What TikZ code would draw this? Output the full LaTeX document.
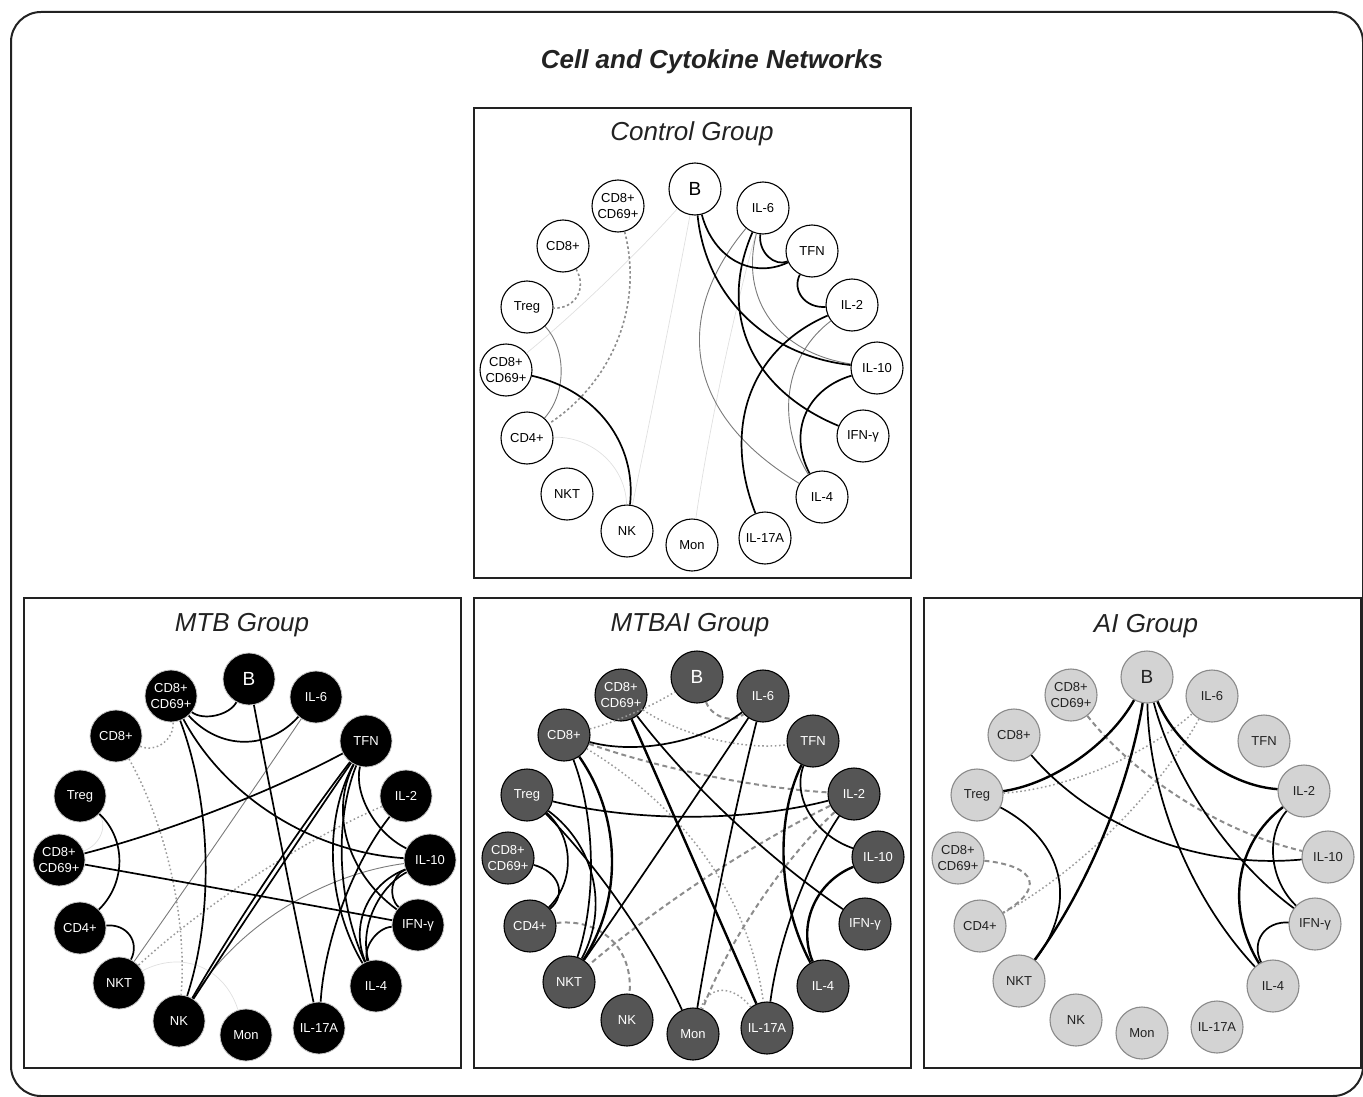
\documentclass[tikz,border=0pt]{standalone}
\usepackage{fontspec}
\setmainfont{Liberation Sans}
\usetikzlibrary{calc}
\definecolor{ink}{HTML}{222222}
\definecolor{mtbaifill}{HTML}{555555}
\definecolor{aifill}{HTML}{D3D3D3}
\definecolor{aiborder}{HTML}{8A8A8A}
\definecolor{dashgray}{HTML}{8C8C8C}
\definecolor{dotgray}{HTML}{9A9A9A}
\definecolor{thingray}{HTML}{7A7A7A}
\definecolor{faintgray}{HTML}{E0E0E0}
\newcommand\netlink[5][]{%
  \coordinate (lkM) at ($(#2)!0.5!(#3)$);%
  \coordinate (lkQ) at ($(lkM)!#4!(#5)$);%
  \draw[#1] (#2) .. controls ($(#2)!0.6667!(lkQ)$) and ($(#3)!0.6667!(lkQ)$) .. (#3);}
\tikzset{
  nd/.style={circle, minimum size=52pt, inner sep=0pt, align=center,
    font=\fontsize{13}{15.5}\selectfont, line width=1.1pt},
  ctl/.style={nd, draw=black, fill=white, text=black},
  mtb/.style={nd, draw=gray!45, fill=black, text=white, line width=0.8pt},
  mai/.style={nd, draw=black, fill=mtbaifill, text=white},
  ain/.style={nd, draw=aiborder, fill=aifill, text=ink},
  bnode/.style={font=\fontsize{19}{22}\selectfont},
  blk/.style={draw=black, line width=1.7pt},
  strong/.style={draw=black, line width=2.4pt},
  thinl/.style={draw=thingray, line width=0.9pt},
  dashl/.style={draw=dashgray, line width=2pt, dash pattern=on 5pt off 3.5pt},
  dotl/.style={draw=dotgray, line width=1.5pt, dash pattern=on 1.6pt off 2.6pt},
  cdot/.style={draw=dashgray, line width=1.6pt, dash pattern=on 2.5pt off 2.5pt},
  faint/.style={draw=faintgray, line width=0.7pt},
  panel/.style={draw=ink, line width=1.4pt},
  ptitle/.style={font=\fontsize{26}{30}\selectfont\itshape, text=ink, anchor=base, inner sep=0pt},
}
\begin{document}
\begin{tikzpicture}[x=1pt,y=-1pt]
\useasboundingbox (0,0) rectangle (1363,1097);
\draw[draw=ink, line width=2pt, rounded corners=30pt] (11,12) rectangle (1363,1096);
\node[font=\fontsize{26}{30}\selectfont\bfseries\itshape, text=ink, anchor=base, inner sep=0pt] (title) at (712,69) {Cell and Cytokine Networks};

% panels
\draw[panel] (474,108) rectangle (911,578);
\draw[panel] (24,598) rectangle (461,1068);
\draw[panel] (474,598) rectangle (911,1068);
\draw[panel] (924,598) rectangle (1361,1068);
\node[ptitle] (tc) at (692,141) {Control Group};
\node[ptitle] (tm) at (242,631) {MTB Group};
\node[ptitle] (tx) at (690,631) {MTBAI Group};
\node[ptitle] (ta) at (1146,632) {AI Group};

\coordinate (cC) at (692,367);
\coordinate (mC) at (245,858);
\coordinate (xC) at (693,857);
\coordinate (aC) at (1143,857);

% ---------- Control nodes
\node[ctl,bnode] (cB) at (695,189) {B};
\node[ctl] (cIL6) at (763,208) {IL-6};
\node[ctl] (cTFN) at (812,251) {TFN};
\node[ctl] (cIL2) at (852,305) {IL-2};
\node[ctl] (cIL10) at (877,368) {IL-10};
\node[ctl] (cIFN) at (863,436) {IFN-γ};
\node[ctl] (cIL4) at (822,497) {IL-4};
\node[ctl] (cIL17) at (765,538) {IL-17A};
\node[ctl] (cMon) at (692,545) {Mon};
\node[ctl] (cNK) at (627,531) {NK};
\node[ctl] (cNKT) at (567,494) {NKT};
\node[ctl] (cCD4) at (527,438) {CD4+};
\node[ctl] (cDCb) at (506,370) {CD8+\\CD69+};
\node[ctl] (cTreg) at (527,307) {Treg};
\node[ctl] (cCD8) at (563,246) {CD8+};
\node[ctl] (cDCt) at (618,206) {CD8+\\CD69+};

% ---------- MTB nodes
\node[mtb,bnode] (mB) at (249,679) {B};
\node[mtb] (mIL6) at (316,697) {IL-6};
\node[mtb] (mTFN) at (366,741) {TFN};
\node[mtb] (mIL2) at (406,796) {IL-2};
\node[mtb] (mIL10) at (430,860) {IL-10};
\node[mtb] (mIFN) at (418,925) {IFN-γ};
\node[mtb] (mIL4) at (376,986) {IL-4};
\node[mtb] (mIL17) at (319,1028) {IL-17A};
\node[mtb] (mMon) at (246,1035) {Mon};
\node[mtb] (mNK) at (179,1021) {NK};
\node[mtb] (mNKT) at (119,983) {NKT};
\node[mtb] (mCD4) at (80,928) {CD4+};
\node[mtb] (mDCb) at (59,860) {CD8+\\CD69+};
\node[mtb] (mTreg) at (80,796) {Treg};
\node[mtb] (mCD8) at (116,736) {CD8+};
\node[mtb] (mDCt) at (171,696) {CD8+\\CD69+};

% ---------- MTBAI nodes
\node[mai,bnode] (xB) at (697,677) {B};
\node[mai] (xIL6) at (763,696) {IL-6};
\node[mai] (xTFN) at (813,741) {TFN};
\node[mai] (xIL2) at (854,794) {IL-2};
\node[mai] (xIL10) at (878,857) {IL-10};
\node[mai] (xIFN) at (865,924) {IFN-γ};
\node[mai] (xIL4) at (823,986) {IL-4};
\node[mai] (xIL17) at (767,1028) {IL-17A};
\node[mai] (xMon) at (693,1034) {Mon};
\node[mai] (xNK) at (627,1020) {NK};
\node[mai] (xNKT) at (569,982) {NKT};
\node[mai] (xCD4) at (530,926) {CD4+};
\node[mai] (xDCb) at (508,858) {CD8+\\CD69+};
\node[mai] (xTreg) at (527,795) {Treg};
\node[mai] (xCD8) at (564,735) {CD8+};
\node[mai] (xDCt) at (621,695) {CD8+\\CD69+};

% ---------- AI nodes
\node[ain,bnode] (aB) at (1147,677) {B};
\node[ain] (aIL6) at (1212,696) {IL-6};
\node[ain] (aTFN) at (1264,741) {TFN};
\node[ain] (aIL2) at (1304,791) {IL-2};
\node[ain] (aIL10) at (1328,857) {IL-10};
\node[ain] (aIFN) at (1315,924) {IFN-γ};
\node[ain] (aIL4) at (1273,986) {IL-4};
\node[ain] (aIL17) at (1217,1027) {IL-17A};
\node[ain] (aMon) at (1142,1033) {Mon};
\node[ain] (aNK) at (1076,1020) {NK};
\node[ain] (aNKT) at (1019,981) {NKT};
\node[ain] (aCD4) at (980,926) {CD4+};
\node[ain] (aDCb) at (958,858) {CD8+\\CD69+};
\node[ain] (aTreg) at (977,795) {Treg};
\node[ain] (aCD8) at (1014,735) {CD8+};
\node[ain] (aDCt) at (1071,695) {CD8+\\CD69+};

% ---------- Control edges
\netlink[faint]{cB}{cDCb}{0.08}{cC}
\netlink[faint]{cB}{cNK}{0.05}{cC}
\netlink[faint]{cIL6}{cMon}{0.3}{cC}
\netlink[faint]{cCD4}{cNK}{0.42}{cC}
\netlink[thinl]{cIL6}{cIL4}{1.7}{cC}
\netlink[thinl]{cIL6}{cIL10}{0.72}{cC}
\netlink[thinl]{cIL2}{cIL4}{0.59}{cC}
\netlink[thinl]{cTreg}{cCD4}{0.36}{cC}
\netlink[cdot]{cCD8}{cTreg}{0.37}{cC}
\netlink[cdot]{cDCt}{cCD4}{0.7}{cC}
\netlink[blk]{cB}{cTFN}{0.5}{cC}
\netlink[blk]{cB}{cIL10}{0.8}{cC}
\netlink[blk]{cIL6}{cTFN}{0.33}{cC}
\netlink[blk]{cIL6}{cIFN}{0.98}{cC}
\netlink[blk]{cTFN}{cIL2}{0.36}{cC}
\netlink[blk]{cIL2}{cIL17}{0.93}{cC}
\netlink[blk]{cIL10}{cIL4}{0.5}{cC}
\netlink[blk]{cDCb}{cNK}{0.6}{cC}

% ---------- MTB edges
\netlink[faint]{mNKT}{mMon}{0.5}{mC}
\netlink[faint]{mTreg}{mDCb}{0.3}{mC}
\netlink[dotl]{mCD8}{mDCt}{0.32}{mC}
\netlink[dotl]{mCD8}{mNK}{0.45}{mC}
\netlink[dotl]{mIL2}{mNKT}{0.8}{mC}
\netlink[thinl]{mIL6}{mNKT}{0.05}{mC}
\netlink[thinl]{mIL10}{mNK}{0.7}{mC}
\netlink[blk]{mDCt}{mB}{0.27}{mC}
\netlink[blk]{mDCt}{mIL6}{0.5}{mC}
\netlink[blk]{mDCt}{mIL10}{0.87}{mC}
\netlink[blk]{mDCt}{mNK}{0.81}{mC}
\netlink[blk]{mB}{mIL17}{0.05}{mC}
\netlink[blk]{mTFN}{mDCb}{0.3}{mC}
\netlink[blk]{mTFN}{mNK}{0.05}{mC}
\netlink[blk]{mTFN}{mNK}{0.3}{mC}
\netlink[blk]{mTFN}{mIL10}{0.33}{mC}
\netlink[blk]{mTFN}{mIFN}{0.55}{mC}
\netlink[blk]{mTFN}{mIL4}{0.55}{mC}
\netlink[blk]{mTFN}{mIL4}{0.42}{mC}
\netlink[blk]{mIL2}{mIL17}{0.3}{mC}
\netlink[blk]{mIL10}{mIFN}{0.29}{mC}
\netlink[blk]{mIL10}{mIL4}{0.42}{mC}
\netlink[blk]{mIL10}{mIL4}{0.33}{mC}
\netlink[blk]{mIFN}{mIL4}{0.27}{mC}
\netlink[blk]{mDCb}{mIFN}{0.02}{mC}
\netlink[blk]{mTreg}{mCD4}{0.42}{mC}
\netlink[blk]{mCD4}{mNKT}{0.35}{mC}

% ---------- MTBAI edges
\netlink[dotl]{xCD8}{xB}{0.08}{xC}
\netlink[dotl]{xDCt}{xTFN}{0.27}{xC}
\draw[dotl] (xCD8) .. controls (655,790) and (745,870) .. (xIL17);
\netlink[dotl]{xMon}{xIL17}{0.4}{xC}
\netlink[dashl]{xB}{xIL6}{0.3}{xC}
\netlink[dashl]{xCD8}{xIL2}{0.22}{xC}
\netlink[dashl]{xIL2}{xNKT}{0.6}{xC}
\netlink[dashl]{xIL2}{xMon}{0.34}{xC}
\netlink[dashl]{xCD4}{xNK}{0.51}{xC}
\netlink[blk]{xCD8}{xIL6}{0.35}{xC}
\netlink[blk]{xCD8}{xNKT}{0.35}{xC}
\netlink[strong]{xCD8}{xNKT}{0.66}{xC}
\netlink[strong]{xDCt}{xIL17}{0.02}{xC}
\netlink[blk]{xDCt}{xIFN}{0.4}{xC}
\netlink[blk]{xIL6}{xNKT}{0.05}{xC}
\netlink[blk]{xIL6}{xMon}{0.2}{xC}
\netlink[strong]{xTFN}{xIL4}{0.5}{xC}
\netlink[blk]{xTFN}{xIL10}{0.42}{xC}
\netlink[blk]{xIL2}{xIL17}{0.23}{xC}
\netlink[blk]{xTreg}{xIL2}{0.66}{xC}
\netlink[blk]{xTreg}{xCD4}{0.42}{xC}
\netlink[blk]{xDCb}{xCD4}{0.38}{xC}
\netlink[blk]{xTreg}{xNKT}{0.56}{xC}
\netlink[blk]{xTreg}{xMon}{0.26}{xC}
\netlink[strong]{xIL10}{xIL4}{0.42}{xC}

% ---------- AI edges
\netlink[dotl]{aTreg}{aIL6}{0.36}{aC}
\netlink[dotl]{aCD4}{aIL6}{0.7}{aC}
\netlink[dashl]{aDCt}{aIL10}{0.54}{aC}
\netlink[dashl]{aDCb}{aCD4}{0.62}{aC}
\netlink[strong]{aB}{aTreg}{0.35}{aC}
\netlink[strong]{aB}{aNKT}{0.6}{aC}
\netlink[strong]{aB}{aIL2}{0.4}{aC}
\netlink[blk]{aB}{aIL4}{0.9}{aC}
\netlink[blk]{aB}{aIFN}{0.5}{aC}
\netlink[blk]{aCD8}{aIL10}{1.3}{aC}
\netlink[blk]{aTreg}{aNKT}{0.76}{aC}
\netlink[strong]{aIL2}{aIL4}{0.6}{aC}
\netlink[blk]{aIL2}{aIFN}{0.38}{aC}
\netlink[blk]{aIFN}{aIL4}{0.36}{aC}
\end{tikzpicture}
\end{document}
